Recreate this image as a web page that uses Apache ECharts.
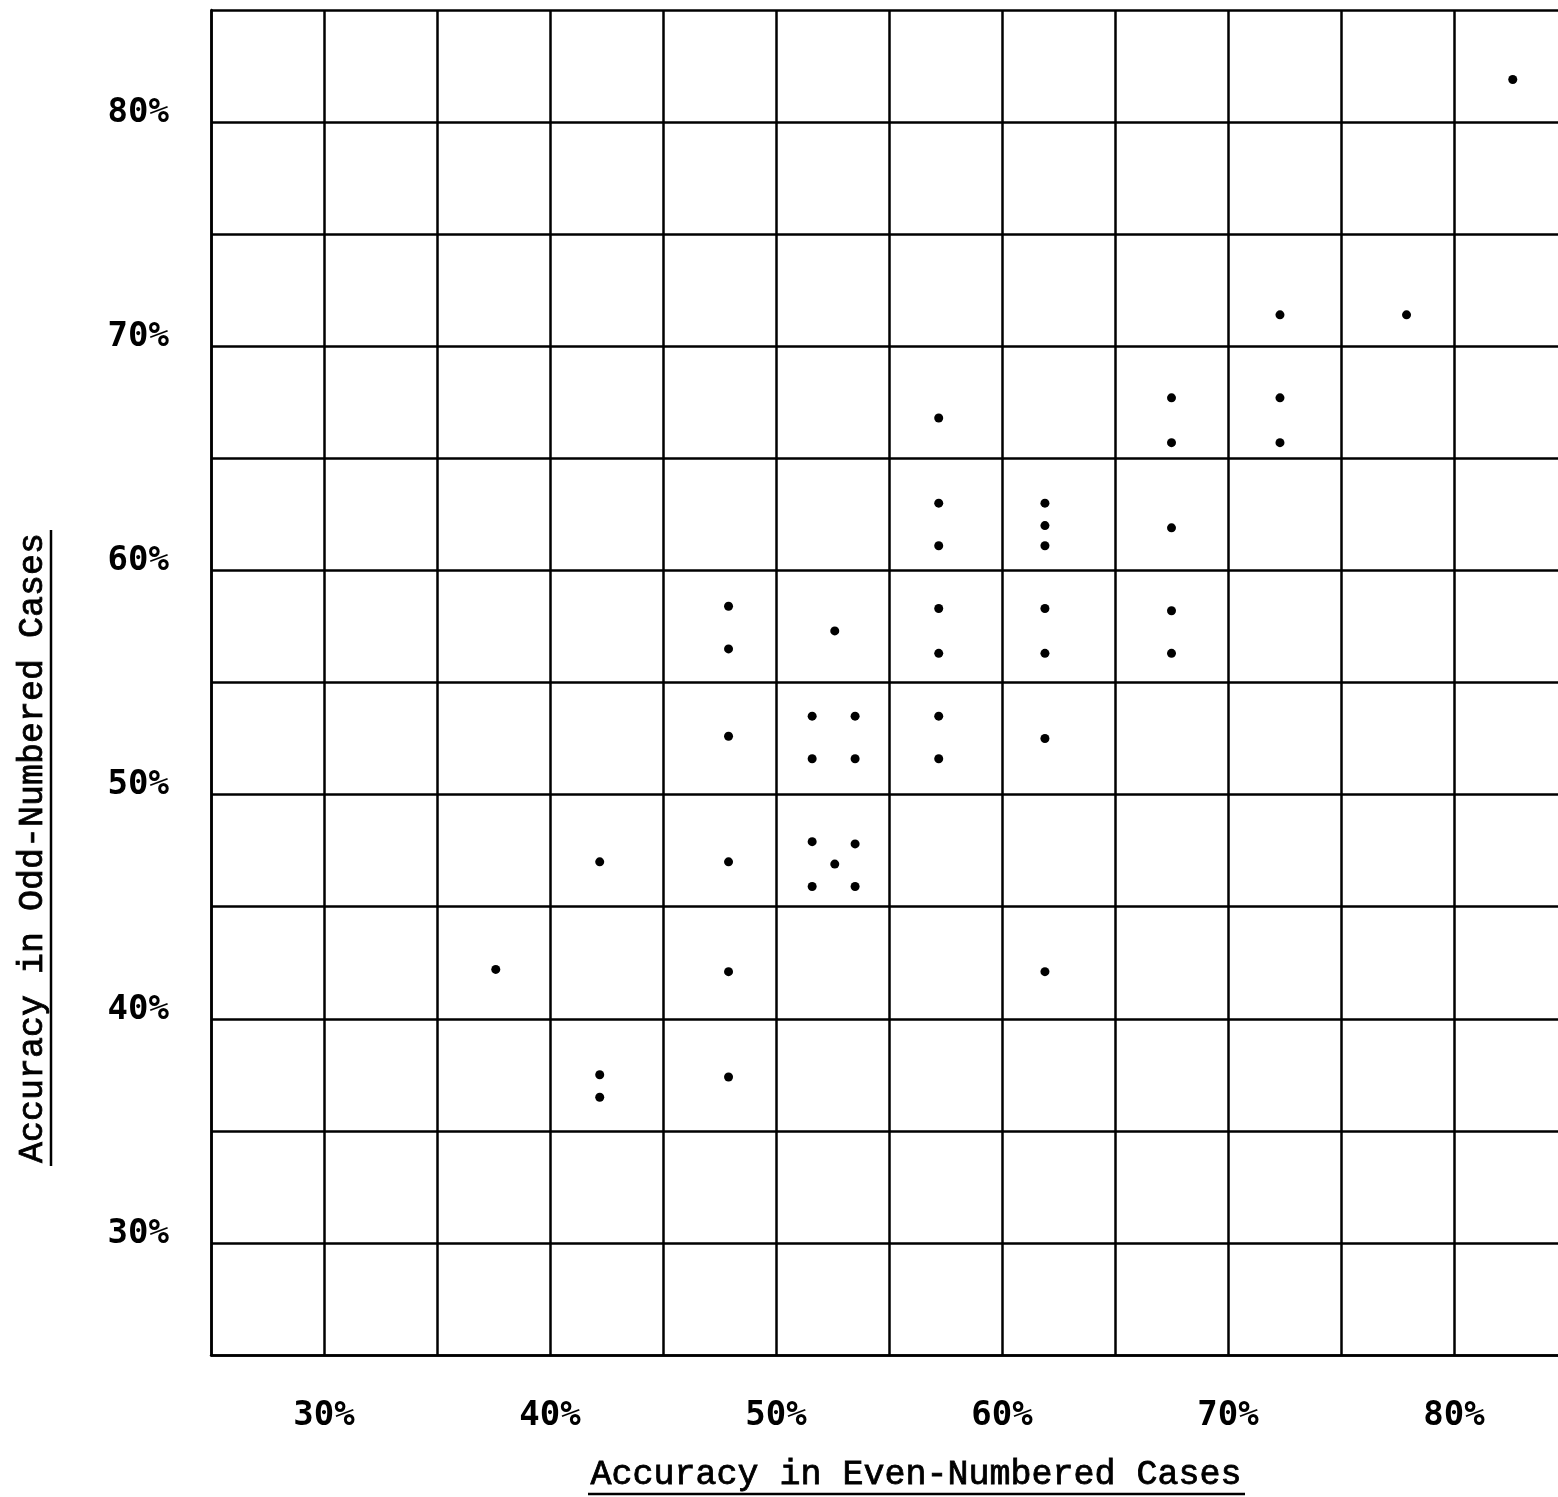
<!DOCTYPE html>
<html>
<head>
<meta charset="utf-8">
<script src="https://cdn.jsdelivr.net/npm/echarts@6/dist/echarts.min.js"></script>
<style>
html,body{margin:0;padding:0;background:#fff;}
#chart{width:1558px;height:1497px;}
</style>
</head>
<body>
<div id="chart"></div>
<script>
// Accuracy in even-numbered cases (x, %) and odd-numbered cases (y, %)
var evenAccuracy = [82.6, 72.3, 77.9, 67.5, 72.3, 67.5, 72.3, 57.2,
  57.2, 57.2, 61.9, 61.9, 61.9, 67.5,
  57.2, 57.2, 57.2, 57.2, 61.9, 61.9, 61.9, 67.5, 67.5,
  47.9, 47.9, 47.9, 52.6,
  51.6, 53.5, 51.6, 53.5,
  51.6, 53.5, 52.6, 51.6, 53.5,
  42.2, 47.9, 37.6, 47.9, 61.9, 42.2, 42.2, 47.9];
var oddAccuracy = [81.9, 71.4, 71.4, 67.7, 67.7, 65.7, 65.7, 66.8,
  63.0, 61.1, 63.0, 62.0, 61.1, 61.9,
  58.3, 56.3, 53.5, 51.6, 58.3, 56.3, 52.5, 58.2, 56.3,
  58.4, 56.5, 52.6, 57.3,
  53.5, 53.5, 51.6, 51.6,
  47.9, 47.8, 46.9, 45.9, 45.9,
  47.0, 47.0, 42.2, 42.1, 42.1, 37.5, 36.5, 37.4];
var xTickLabels = [30, 40, 50, 60, 70, 80];
var yTickLabels = [30, 40, 50, 60, 70, 80];
var xTitle = 'Accuracy in Even-Numbered Cases';
var yTitle = 'Accuracy in Odd-Numbered Cases';

var points = evenAccuracy.map(function (x, i) { return [x, oddAccuracy[i]]; });

var chart = echarts.init(document.getElementById('chart'), null, {renderer: 'canvas'});
var lineStyle = {color: '#000', width: 2.5};
var labelFont = {fontFamily: 'DejaVu Sans Mono', fontWeight: 'bold', fontSize: 34, color: '#000'};
var titleStyle = {fontFamily: 'Liberation Mono', fontSize: 35, fill: '#000', stroke: '#000', lineWidth: 0.8, align: 'center', verticalAlign: 'middle'};

chart.setOption({
  backgroundColor: '#fff',
  animation: false,
  grid: {left: 211, top: 10, width: 1356, height: 1345, containLabel: false, outerBoundsMode: 'none'},
  xAxis: {
    type: 'value', min: 25, max: 85, interval: 5,
    axisLine: {show: true, lineStyle: lineStyle},
    axisTick: {show: false},
    splitLine: {show: true, lineStyle: lineStyle},
    axisLabel: Object.assign({
      margin: 44,
      formatter: function (v) { return xTickLabels.indexOf(v) >= 0 ? v + '%' : ''; }
    }, labelFont)
  },
  yAxis: {
    type: 'value', min: 25, max: 85, interval: 5,
    axisLine: {show: true, lineStyle: lineStyle},
    axisTick: {show: false},
    splitLine: {show: true, lineStyle: lineStyle},
    axisLabel: Object.assign({
      margin: 42,
      formatter: function (v) { return yTickLabels.indexOf(v) >= 0 ? '{a|' + v + '%}' : ''; },
      rich: {a: Object.assign({padding: [0, 0, 18, 0]}, labelFont)}
    }, labelFont)
  },
  series: [{
    type: 'scatter',
    data: points,
    symbol: 'circle',
    symbolSize: 9,
    itemStyle: {color: '#000', opacity: 1}
  }],
  graphic: [
    {type: 'text', x: 916, y: 1475, style: Object.assign({text: xTitle}, titleStyle)},
    {type: 'line', shape: {x1: 588, y1: 1494, x2: 1245, y2: 1494}, style: {stroke: '#000', lineWidth: 2.5}},
    {type: 'text', x: 33, y: 848, rotation: Math.PI / 2, style: Object.assign({text: yTitle}, titleStyle)},
    {type: 'line', shape: {x1: 51, y1: 530, x2: 51, y2: 1166}, style: {stroke: '#000', lineWidth: 2.5}}
  ]
});
</script>
</body>
</html>
